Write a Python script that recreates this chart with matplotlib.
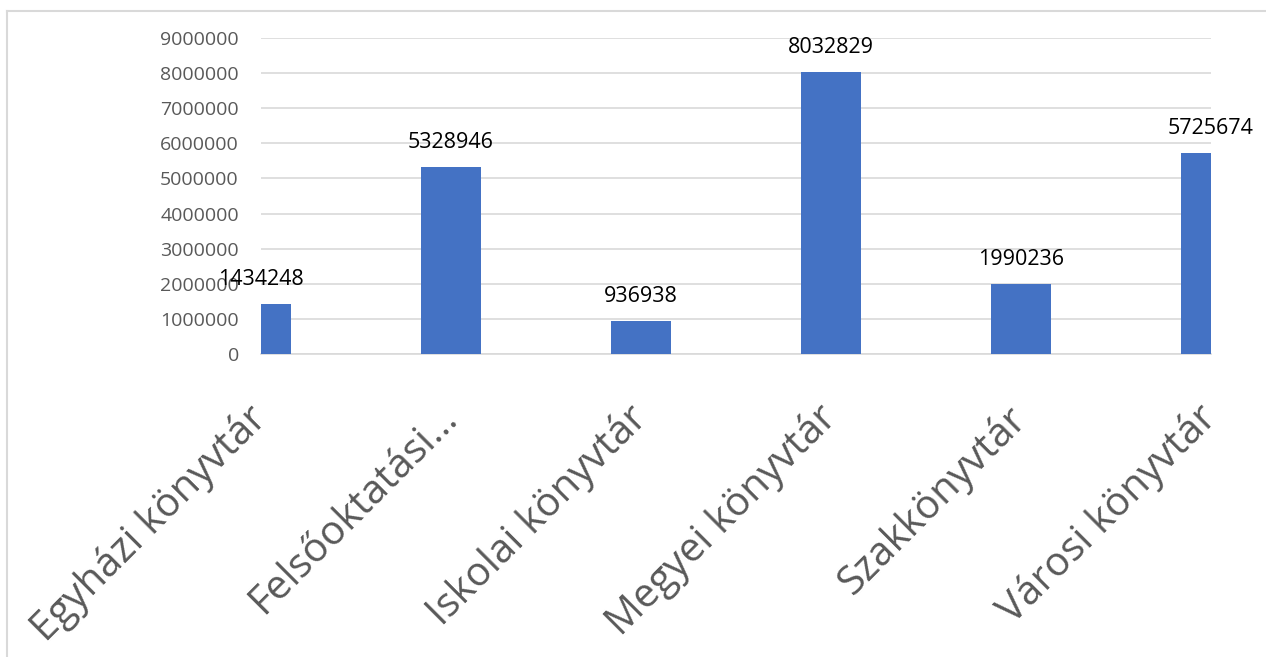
import numpy as np
import matplotlib.pyplot as plt
from matplotlib.lines import Line2D

# Adatok
kategoriak = ["Egyházi könyvtár", "Felsőoktatási…", "Iskolai könyvtár",
              "Megyei könyvtár", "Szakkönyvtár", "Városi könyvtár"]
ertekek = [1434248, 5328946, 936938, 8032829, 1990236, 5725674]
y_tickek = list(range(0, 9000001, 1000000))

plt.rcParams['font.family'] = ['Open Sans', 'DejaVu Sans']

fig = plt.figure(figsize=(12.66, 6.57), dpi=100)
ax = fig.add_axes([261 / 1266, 1 - 354 / 657, 950 / 1266, 316 / 657])

x = np.arange(len(kategoriak))
oszlopok = ax.bar(x, ertekek, width=0.316, color='#4472C4', zorder=3)

# Értékcímkék az oszlopok fölött
for xi, v in zip(x, ertekek):
    ax.annotate(str(v), (xi, v), xytext=(0, 10), textcoords='offset points',
                ha='center', va='bottom', fontsize=15.5, color='black',
                annotation_clip=False, zorder=4)

ax.set_xlim(0, len(kategoriak) - 1)
ax.set_ylim(0, 9000000)
ax.set_yticks(y_tickek)
ax.set_yticklabels([str(t) for t in y_tickek], fontsize=14, color='#595959')
ax.set_xticks(x)
ax.set_xticklabels(kategoriak, rotation=45, ha='right', va='center',
                   rotation_mode='anchor', fontsize=29, color='#595959')
ax.tick_params(axis='y', length=0, pad=16)
ax.tick_params(axis='x', length=0, pad=42)
ax.grid(axis='y', color='#d9d9d9', lw=1.2, zorder=0)
for s in ['top', 'right', 'left']:
    ax.spines[s].set_visible(False)
ax.spines['bottom'].set_color('#d9d9d9')
ax.spines['bottom'].set_linewidth(1.2)

# Keret a kép bal és felső szélén
fig.add_artist(Line2D([7 / 1266, 7 / 1266], [0, 1 - 11 / 657], color='#d9d9d9', lw=1.5))
fig.add_artist(Line2D([7 / 1266, 1], [1 - 11 / 657, 1 - 11 / 657], color='#d9d9d9', lw=1.5))

plt.savefig('out.png', dpi=100)
